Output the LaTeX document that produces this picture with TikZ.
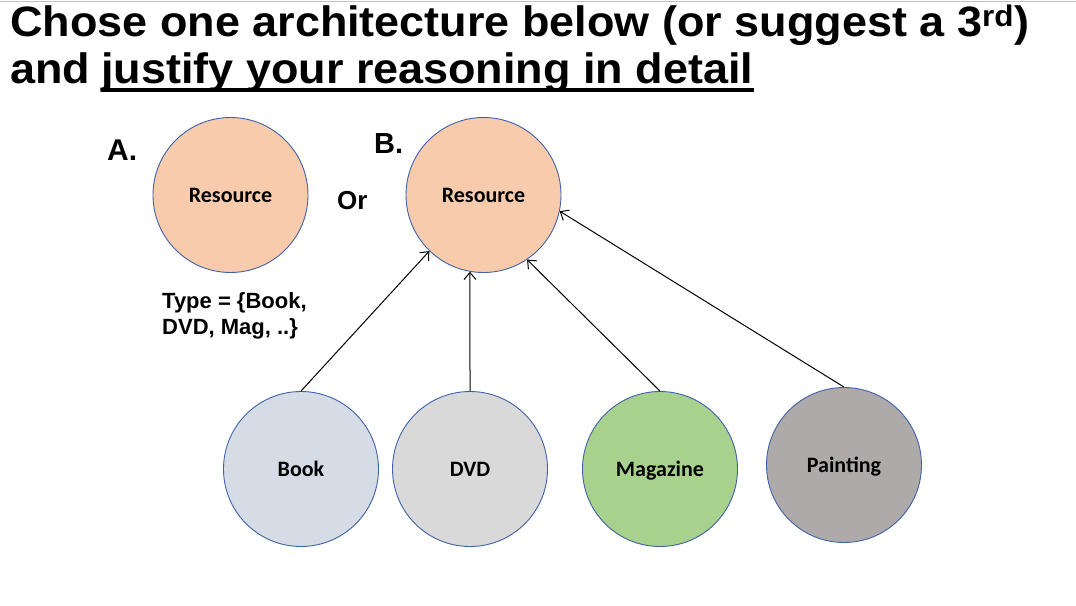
\documentclass[tikz,border=0pt]{standalone}
\usepackage{fontspec}
\setmainfont{Liberation Sans}
\newfontfamily\titlefont[FakeStretch=1.058]{Liberation Sans}
\newfontfamily\calib{Carlito}
\usetikzlibrary{arrows.meta}
\definecolor{peach}{HTML}{F8CBAD}
\definecolor{bookc}{HTML}{D6DCE5}
\definecolor{dvdc}{HTML}{D9D9D9}
\definecolor{magc}{HTML}{A9D18E}
\definecolor{paintc}{HTML}{AEAAAA}
\definecolor{edgec}{HTML}{3F62A8}
\tikzset{
  ball/.style={circle, draw=edgec, line width=0.9pt, minimum size=155pt, inner sep=0pt,
    font=\calib\bfseries\fontsize{22}{24}\selectfont, text height=15pt, text depth=0pt},
  conn/.style={line width=1pt, -{Straight Barb[length=7pt,width=12pt]}},
  title/.style={anchor=base west, inner sep=0pt, font=\titlefont\bfseries\fontsize{42.5}{48}\selectfont},
  lbl/.style={anchor=base west, inner sep=0pt, font=\bfseries\fontsize{#1}{#1}\selectfont},
}
\begin{document}
\begin{tikzpicture}[x=1pt,y=-1pt]
\useasboundingbox (0,0) rectangle (1076,605);
\draw[black!25, line width=1pt] (0,1) -- (1076,1);
\node[title] (t1) at (10,36) {Chose one architecture below (or suggest a 3\textsuperscript{rd})};
\node[title] (t2a) at (10,83) {and};
\node[title] (t2b) at (101,83) {justify your reasoning in detail};
\draw[line width=4pt] ([yshift=-6.5pt]t2b.base west) -- ([yshift=-6.5pt]t2b.base east);

\node[lbl=30] (la) at (107,160) {A.};
\node[lbl=29] (lb) at (374,153) {B.};
\node[lbl=26] (or) at (337,209) {Or};
\node[lbl=22, align=left, anchor=north west, font=\bfseries\fontsize{22}{26.5}\selectfont] (type) at (162,292) {Type = \{Book,\\DVD, Mag, ..\}};

\node[ball, fill=peach] (ra) at (230.5,195) {Resource};
\node[ball, fill=peach] (rb) at (483.5,195) {Resource};
\node[ball, fill=bookc] (book) at (301,469) {Book};
\node[ball, fill=dvdc] (dvd) at (470,469) {DVD};
\node[ball, fill=magc] (mag) at (660,469) {Magazine};
\node[ball, fill=paintc] (paint) at (844,465) {Painting};

\draw[conn] (book.north) -- (rb.226);
\draw[conn] (dvd.north) -- (rb.260);
\draw[conn] (mag.north) -- (rb.304);
\draw[conn] (paint.north) -- (rb.348);
\end{tikzpicture}
\end{document}
